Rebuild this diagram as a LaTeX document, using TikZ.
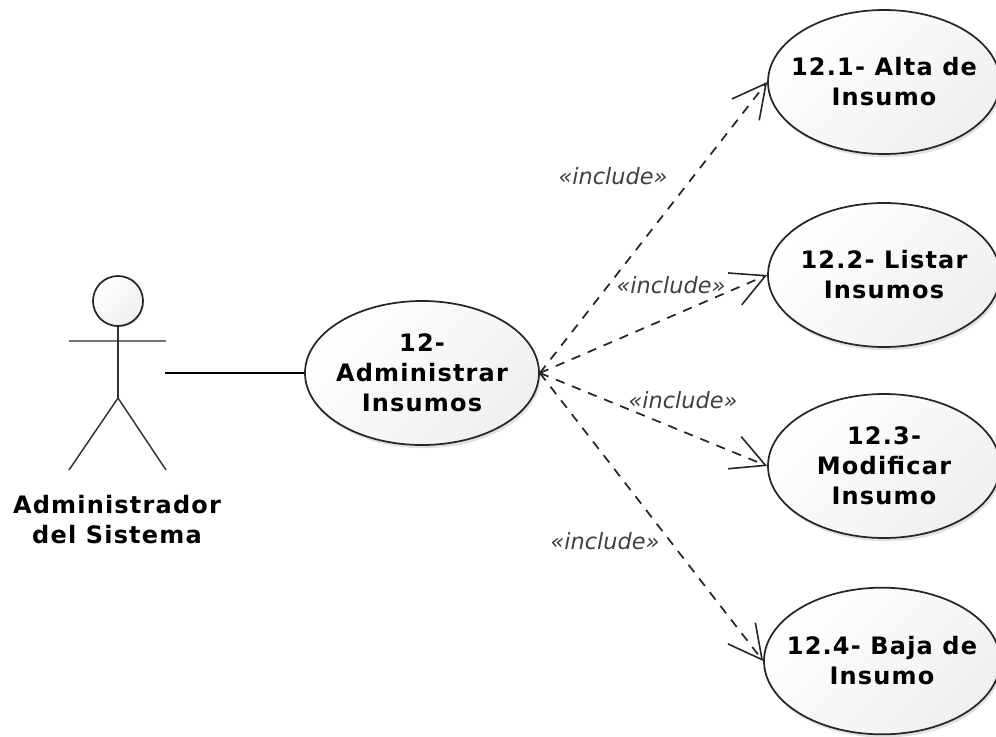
\documentclass[tikz,border=0pt]{standalone}
\usepackage{fontspec}
\setmainfont{DejaVu Sans}
\newfontfamily\boxfont[LetterSpace=5]{DejaVu Sans}
\usetikzlibrary{arrows.meta, shapes.geometric, shadows}
\tikzset{
    usecase/.style={ellipse, draw=black!85, line width=1.3pt, inner xsep=-14pt, inner ysep=0pt, align=center,
        font=\boxfont\bfseries\fontsize{18}{22.5}\selectfont, text=black,
        top color=white, bottom color=black!6, shading angle=45,
        drop shadow={shadow xshift=1.2pt, shadow yshift=-2.4pt, fill=black!30, opacity=.4}},
    actorline/.style={line width=1.3pt, draw=black!80},
    incl/.style={dashed, dash pattern=on 7pt off 6pt, line width=1.3pt, draw=black!85,
        -{Straight Barb[length=25pt, width=26pt, line width=1.2pt]}},
    incllabel/.style={font=\itshape\fontsize{16.8}{20}\selectfont, text=black!75, inner sep=0pt},
}
\begin{document}
\begin{tikzpicture}[x=.75pt, y=-.75pt]
    \useasboundingbox (0,0) rectangle (996,736);
    \node[usecase, minimum width=175.5pt, minimum height=108pt] (insumos) at (422,373) {12-\\Administrar\\Insumos};
    \node[usecase, minimum width=174pt, minimum height=108pt] (alta) at (884,82) {12.1- Alta de\\Insumo};
    \node[usecase, minimum width=174pt, minimum height=108pt] (listar) at (884,275) {12.2- Listar\\Insumos};
    \node[usecase, minimum width=174pt, minimum height=108pt] (modificar) at (884,466) {12.3-\\Modificar\\Insumo};
    \node[usecase, minimum width=177pt, minimum height=110pt] (baja) at (882,661) {12.4- Baja de\\Insumo};
    % actor
    \node[circle, draw=black!85, line width=1.3pt, minimum size=37.5pt, inner sep=0pt,
        top color=white, bottom color=black!6, shading angle=45,
        drop shadow={shadow xshift=.8pt, shadow yshift=-1.2pt, fill=black!30, opacity=.4}] (head) at (118,301) {};
    \coordinate (neck) at (118,398);
    \coordinate (armleft) at (69,341);
    \coordinate (armright) at (166,341);
    \coordinate (footleft) at (69,470);
    \coordinate (footright) at (166,470);
    \coordinate (hand) at (165,373);
    \draw[actorline, draw=black!55, line width=2pt](armleft)--(armright);
    \draw[actorline](head.south)--(neck);
    \draw[actorline, line width=1.1pt](footleft)--(neck)--(footright);
    \node[align=center, font=\boxfont\bfseries\fontsize{18}{22.5}\selectfont, text=black, inner sep=0pt] (actorname) at (117,520) {Administrador\\del Sistema};
    \draw[line width=1.2pt](hand)--(insumos.west);
    \draw[incl](insumos.east)--(alta.west);
    \draw[incl](insumos.east)--(listar.west);
    \draw[incl](insumos.east)--(modificar.west);
    \draw[incl](insumos.east)--(baja.west);
    \node[incllabel] (inclalta) at (613,176) {«include»};
    \node[incllabel] (incllistar) at (671,285) {«include»};
    \node[incllabel] (inclmodificar) at (683,400) {«include»};
    \node[incllabel] (inclbaja) at (605,541) {«include»};
\end{tikzpicture}
\end{document}
